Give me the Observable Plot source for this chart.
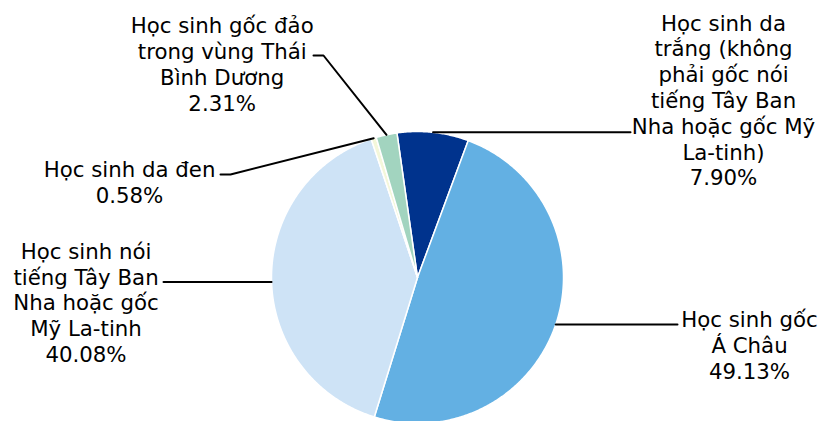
<!DOCTYPE html>
<html><head><meta charset="utf-8">
<script src="https://cdn.jsdelivr.net/npm/d3@7"></script>
<script src="https://cdn.jsdelivr.net/npm/@observablehq/plot@0.6"></script>
<style>body{margin:0;background:#fff;overflow:hidden}</style>
</head><body><div id="chart"></div>
<script>
// ---- data ----
const categories = [
  "Học sinh da trắng (không phải gốc nói tiếng Tây Ban Nha hoặc gốc Mỹ La-tinh)",
  "Học sinh gốc Á Châu",
  "Học sinh nói tiếng Tây Ban Nha hoặc gốc Mỹ La-tinh",
  "Học sinh da đen",
  "Học sinh gốc đảo trong vùng Thái Bình Dương"
];
const values = [7.90, 49.13, 40.08, 0.58, 2.31];
const labelLines = [
  ["Học sinh da", "trắng (không", "phải gốc nói", "tiếng Tây Ban", "Nha hoặc gốc Mỹ", "La-tinh)"],
  ["Học sinh gốc", "Á Châu"],
  ["Học sinh nói", "tiếng Tây Ban", "Nha hoặc gốc", "Mỹ La-tinh"],
  ["Học sinh da đen"],
  ["Học sinh gốc đảo", "trong vùng Thái", "Bình Dương"]
];
const colors = ["#00338D", "#63B0E3", "#CEE3F6", "#F4F7DA", "#A2D4BF"];

// ---- layout (pixels) ----
const W = 821, H = 421, CX = 417, CY = 277, R = 146, START = -8.1;
const FONT = 21.3, LH = 25.8;
const layout = [
  {tx: 723, ty: 99.2, hx: 630},
  {tx: 749, ty: 344.2, hx: 677},
  {tx: 85.5, ty: 301.7, hx: 163, angle: 268.2},
  {tx: 129, ty: 181.5, path: [[220, 174], [230, 174]]},
  {tx: 221.7, ty: 63.4, path: [[313, 55], [323, 55]]}
];

const total = d3.sum(values);
let acc = START;
const slices = categories.map((key, i) => {
  const a0 = acc, a1 = acc + values[i] / total * 360;
  acc = a1;
  return {key, i, a0, a1, mid: (a0 + a1) / 2};
});
const pt = (deg, r = R) => [CX + r * Math.sin(deg * Math.PI / 180), CY - r * Math.cos(deg * Math.PI / 180)];

const slicePts = slices.flatMap(s => {
  const n = Math.max(2, Math.ceil((s.a1 - s.a0) / 0.5));
  const pts = [[CX, CY]];
  for (let k = 0; k <= n; k++) pts.push(pt(s.a0 + (s.a1 - s.a0) * k / n));
  pts.push([CX, CY]);
  return pts.map(([x, y]) => ({key: s.key, x, y}));
});

const leaderPts = slices.flatMap(s => {
  const L = layout[s.i];
  const p = pt(L.angle != null ? L.angle : s.mid);
  const pts = L.hx != null ? [[L.hx, p[1]], p] : [...L.path, p];
  return pts.map(([x, y]) => ({key: s.key, x, y}));
});

const labels = slices.map(s => ({
  key: s.key,
  x: layout[s.i].tx,
  y: layout[s.i].ty,
  text: [...labelLines[s.i], values[s.i].toFixed(2) + "%"].join("\n")
}));

const chart = Plot.plot({
  width: W, height: H,
  margin: 0,
  x: {type: "identity", axis: null},
  y: {type: "identity", axis: null},
  color: {domain: categories, range: colors},
  style: {fontFamily: "'DejaVu Sans', Verdana, sans-serif", background: "#fff"},
  marks: [
    Plot.line(slicePts, {x: "x", y: "y", z: "key", fill: "key", stroke: "white", strokeWidth: 1.5, strokeLinejoin: "round"}),
    Plot.line(leaderPts, {x: "x", y: "y", z: "key", stroke: "#000", strokeWidth: 2}),
    Plot.text(labels, {x: "x", y: "y", text: "text", fill: "#000", fontSize: FONT, lineHeight: LH / FONT, lineAnchor: "middle", textAnchor: "middle"})
  ]
});
document.getElementById("chart").append(chart);
</script>
</body></html>
